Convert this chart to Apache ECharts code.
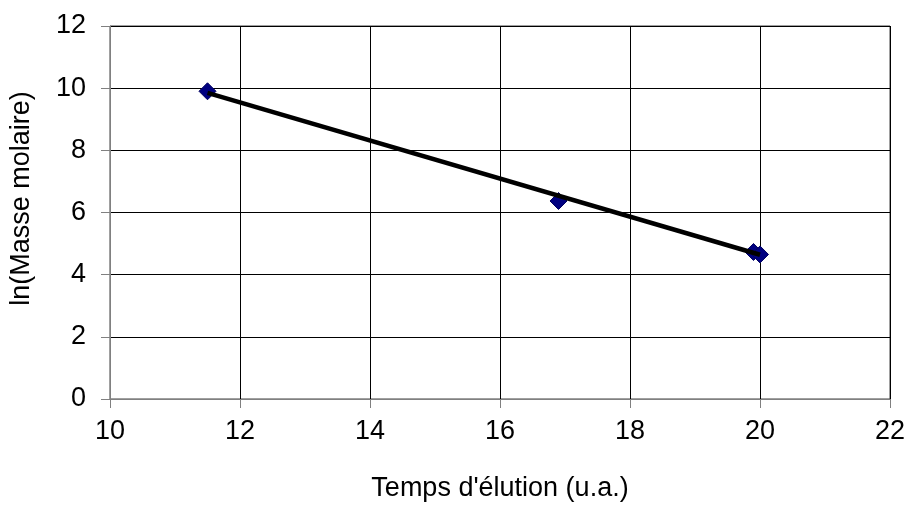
<!DOCTYPE html>
<html>
<head>
<meta charset="utf-8">
<script src="https://cdn.jsdelivr.net/npm/echarts@6/dist/echarts.min.js"></script>
<style>html,body{margin:0;padding:0;background:#fff}#c{width:910px;height:507px}</style>
</head>
<body>
<div id="c"></div>
<script>
var tempsElution = [11.5, 16.9, 19.9, 20.0];
var lnMasse = [9.9, 6.37, 4.73, 4.65];
var trendX = [11.5, 20.0];
var trendY = [9.85, 4.64];
var xTicks = [10, 12, 14, 16, 18, 20, 22];
var yTicks = [0, 2, 4, 6, 8, 10, 12];

var pts = tempsElution.map(function (x, i) { return [x, lnMasse[i]]; });
var trend = trendX.map(function (x, i) { return [x, trendY[i]]; });
var font = 'Liberation Sans, Arial, sans-serif';

var chart = echarts.init(document.getElementById('c'), null, {renderer: 'canvas'});
chart.setOption({
  animation: false,
  backgroundColor: '#fff',
  grid: {left: 109, top: 26, right: 20, bottom: 108, show: true, borderColor: '#404040', borderWidth: 1, containLabel: false},
  xAxis: {
    type: 'value', min: xTicks[0], max: xTicks[xTicks.length - 1], interval: 2,
    name: "Temps d'élution (u.a.)", nameLocation: 'middle', nameGap: 76,
    nameTextStyle: {fontFamily: font, fontSize: 27, color: '#000'},
    axisLine: {show: true, lineStyle: {color: '#808080', width: 1}},
    axisTick: {show: true, inside: false, length: 9, lineStyle: {color: '#808080'}},
    axisLabel: {fontFamily: font, fontSize: 27, color: '#000', margin: 19},
    splitLine: {show: true, lineStyle: {color: '#000', width: 1}}
  },
  yAxis: {
    type: 'value', min: yTicks[0], max: yTicks[yTicks.length - 1], interval: 2,
    name: 'ln(Masse molaire)', nameLocation: 'middle', nameGap: 75,
    nameTextStyle: {fontFamily: font, fontSize: 27, color: '#000', padding: [0, 0, 0, 28]},
    axisLine: {show: true, lineStyle: {color: '#808080', width: 1}},
    axisTick: {show: true, inside: false, length: 9, lineStyle: {color: '#808080'}},
    axisLabel: {fontFamily: font, fontSize: 27, color: '#000', margin: 24},
    splitLine: {show: true, lineStyle: {color: '#000', width: 1}}
  },
  series: [
    {
      type: 'scatter', data: pts, symbol: 'diamond', symbolSize: 17, z: 2,
      itemStyle: {color: '#000080', borderColor: '#000060', borderWidth: 1, opacity: 1}
    },
    {
      type: 'line', data: trend, showSymbol: false, symbol: 'none', z: 3,
      lineStyle: {color: '#000', width: 4.5}
    }
  ]
});
</script>
</body>
</html>
